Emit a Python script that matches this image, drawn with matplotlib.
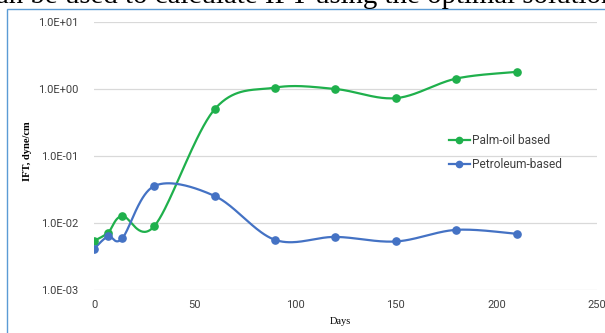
import numpy as np
import matplotlib
matplotlib.use("Agg")
import matplotlib.pyplot as plt
from matplotlib.patches import Rectangle
from matplotlib.lines import Line2D

# IFT measurements over time
days = [0, 7, 14, 30, 60, 90, 120, 150, 180, 210]
palm_oil = [0.0054, 0.0072, 0.0127, 0.0090, 0.50, 1.05, 1.00, 0.73, 1.43, 1.80]
petroleum = [0.0041, 0.0063, 0.0059, 0.0357, 0.0253, 0.0056, 0.0062, 0.0053, 0.0079, 0.0069]

series_names = ["Palm-oil based", "Petroleum-based"]
series_colors = ["#1fb04c", "#4472c4"]
y_ticks = [1e-3, 1e-2, 1e-1, 1e0, 1e1]
y_tick_labels = ["1.0E-03", "1.0E-02", "1.0E-01", "1.0E+00", "1.0E+01"]
x_ticks = [0, 50, 100, 150, 200, 250]

W, H = 605, 333
fig = plt.figure(figsize=(W / 100, H / 100), dpi=100)

# caption line above the chart frame (cut off by the top edge)
fig.text(-0.006, 1 - 3 / H, "an be used to calculate IFT using the optimal solution",
         family="Liberation Serif", fontsize=20.8, va="baseline", ha="left", color="black")

# chart frame
fig.patches.append(Rectangle((6.5 / W, -0.05), 1.2, 1 - 8.5 / H + 0.05,
                             transform=fig.transFigure, fill=False,
                             edgecolor="#5b9bd5", linewidth=1.0))

left, right, top, bottom = 94, 597, 22, 290
ax = fig.add_axes([left / W, (H - bottom) / H, (right - left) / W, (bottom - top) / H])
ax.set_yscale("log")
ax.set_xlim(0, 250)
ax.set_ylim(1e-3, 1e1)

px_per_day = (right - left) / 250
px_per_dec = (bottom - top) / 4


def smooth(xs, ys, n=40):
    """Catmull-Rom style Bezier smoothing computed in screen-like space."""
    P = np.column_stack([np.asarray(xs, float) * px_per_day,
                         np.log10(np.asarray(ys, float)) * px_per_dec])
    ext = np.vstack([P[0], P, P[-1]])
    out = []
    t = np.linspace(0, 1, n)[:, None]
    for i in range(len(P) - 1):
        p0, p3 = ext[i + 1], ext[i + 2]
        c1 = p0 + (ext[i + 2] - ext[i]) / 6
        c2 = p3 - (ext[i + 3] - ext[i + 1]) / 6
        seg = ((1 - t) ** 3) * p0 + 3 * ((1 - t) ** 2) * t * c1 + 3 * (1 - t) * t ** 2 * c2 + t ** 3 * p3
        out.append(seg if i == 0 else seg[1:])
    out = np.vstack(out)
    return out[:, 0] / px_per_day, 10 ** (out[:, 1] / px_per_dec)


for vals, col in zip([palm_oil, petroleum], series_colors):
    sx, sy = smooth(days, vals)
    ax.plot(sx, sy, color=col, lw=1.6, solid_capstyle="round", zorder=3)
    ax.plot(days, vals, "o", color=col, ms=5.2, mec=col, zorder=4)

for s in ax.spines.values():
    s.set_visible(False)
ax.set_yticks(y_ticks)
ax.set_yticklabels(y_tick_labels)
ax.yaxis.set_minor_locator(matplotlib.ticker.NullLocator())
ax.set_xticks(x_ticks)
ax.set_xticklabels([str(v) for v in x_ticks])
ax.tick_params(length=0, labelsize=8, labelcolor="#404040")
ax.tick_params(axis="y", pad=11)
ax.tick_params(axis="x", pad=7)
for lab in ax.get_xticklabels() + ax.get_yticklabels():
    lab.set_family("Roboto")
ax.grid(axis="y", color="#d9d9d9", lw=0.9)
ax.set_axisbelow(True)

fig.text(27 / W, 1 - 151 / H, "IFT, dyne/cm", rotation=90, family="Liberation Serif",
         fontweight="bold", fontsize=7.6, ha="center", va="center")
fig.text(340 / W, 1 - 321 / H, "Days", family="Liberation Serif", fontsize=7.5,
         ha="center", va="center")

handles = [Line2D([], [], color=c, lw=1.6, marker="o", ms=4.5) for c in series_colors]
leg = fig.legend(handles, series_names, loc="upper left",
                 bbox_to_anchor=(449 / W, 1 - 134 / H), frameon=False,
                 handlelength=1.75, handletextpad=0.2, labelspacing=0.95,
                 prop={"family": "Roboto", "size": 8.6}, borderaxespad=0, borderpad=0)
for t in leg.get_texts():
    t.set_color("#404040")

fig.savefig("out.png", dpi=100)
